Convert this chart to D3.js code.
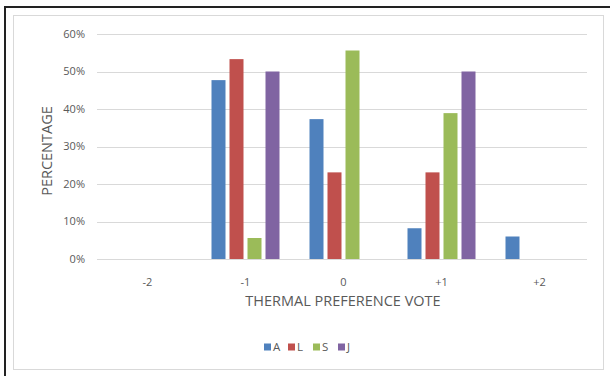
<!DOCTYPE html>
<html>
<head>
<meta charset="utf-8">
<script src="https://cdn.jsdelivr.net/npm/d3@7"></script>
<style>
html,body{margin:0;padding:0;background:#fff;}
svg{display:block;}
text{font-family:"Open Sans","Liberation Sans",sans-serif;fill:#595959;}
</style>
</head>
<body>
<svg id="chart" width="610" height="376"></svg>
<script>
const categories = ["-2", "-1", "0", "+1", "+2"];
const seriesNames = ["A", "L", "S", "J"];
const valuesA = [0, 47.7, 37.3, 8.2, 6.0];
const valuesL = [0, 53.3, 23.1, 23.1, 0];
const valuesS = [0, 5.6, 55.6, 38.9, 0];
const valuesJ = [0, 50.0, 0, 50.0, 0];
const yTicks = [0, 10, 20, 30, 40, 50, 60];
const colors = ["#4F81BD", "#C0504D", "#9BBB59", "#8064A2"];
const seriesValues = [valuesA, valuesL, valuesS, valuesJ];

const svg = d3.select("#chart");

// frame
svg.append("rect").attr("x", 13.5).attr("y", 15.5).attr("width", 590).attr("height", 354)
  .attr("fill", "#fff").attr("stroke", "#D9D9D9").attr("stroke-width", 1);
svg.append("path").attr("d", "M5,376 V7 H610").attr("fill", "none")
  .attr("stroke", "#222").attr("stroke-width", 2);

const x0 = d3.scaleBand().domain(categories).range([98.5, 588.5]).padding(0);
const x1 = d3.scaleBand().domain(seriesNames).range([-34, 34]).paddingInner(4/18).paddingOuter(0);
const y = d3.scaleLinear().domain([0, 60]).range([259, 34]);

// gridlines
svg.append("g").selectAll("line").data(yTicks).join("line")
  .attr("x1", 97).attr("x2", 587)
  .attr("y1", d => Math.round(y(d)) + 0.5).attr("y2", d => Math.round(y(d)) + 0.5)
  .attr("stroke", "#D9D9D9").attr("stroke-width", 1);

// y tick labels
svg.append("g").selectAll("text").data(yTicks).join("text")
  .attr("x", 85).attr("y", d => y(d)).attr("dy", "0.35em")
  .attr("text-anchor", "end").attr("font-size", 11)
  .text(d => d + "%");

// bars
const groups = svg.append("g").selectAll("g").data(seriesNames).join("g")
  .attr("fill", (d, i) => colors[i]);
groups.selectAll("rect").data((s, i) => categories.map((c, j) => ({c, s, v: seriesValues[i][j]})))
  .join("rect")
  .attr("x", d => x0(d.c) + x0.bandwidth() / 2 + x1(d.s))
  .attr("width", x1.bandwidth())
  .attr("y", d => y(d.v))
  .attr("height", d => y(0) - y(d.v));

// x tick labels
svg.append("g").selectAll("text").data(categories).join("text")
  .attr("x", d => x0(d) + x0.bandwidth() / 2).attr("y", 282).attr("dy", "0.35em")
  .attr("text-anchor", "middle").attr("font-size", 11)
  .text(d => d);

// axis titles
svg.append("text").attr("x", 343).attr("y", 301).attr("dy", "0.35em")
  .attr("text-anchor", "middle").attr("font-size", 14.5).text("THERMAL PREFERENCE VOTE");
svg.append("text").attr("transform", "translate(47,151) rotate(-90)").attr("dy", "0.35em")
  .attr("text-anchor", "middle").attr("font-size", 14.5).text("PERCENTAGE");

// legend
const legendX = [264, 288, 313, 338];
const legend = svg.append("g").selectAll("g").data(seriesNames).join("g")
  .attr("transform", (d, i) => `translate(${legendX[i]},347)`);
legend.append("rect").attr("x", 0).attr("y", -3.5).attr("width", 7).attr("height", 7)
  .attr("fill", (d, i) => colors[i]);
legend.append("text").attr("x", 9).attr("y", 0).attr("dy", "0.35em")
  .attr("font-size", 11.5).text(d => d);
</script>
</body>
</html>
